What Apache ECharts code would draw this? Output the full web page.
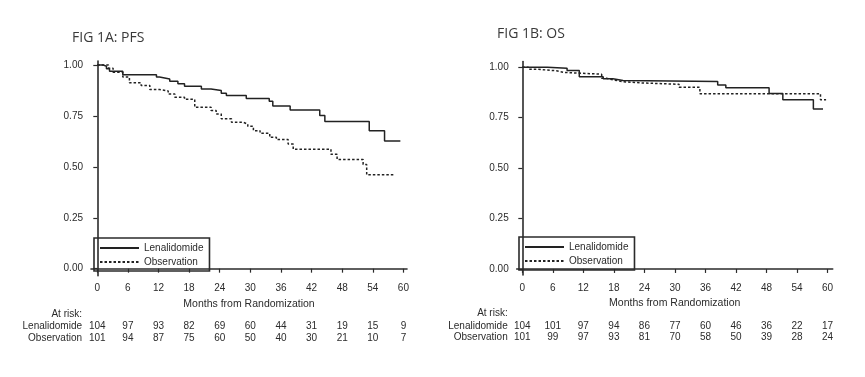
<!DOCTYPE html>
<html>
<head>
<meta charset="utf-8">
<script src="https://cdn.jsdelivr.net/npm/echarts@6/dist/echarts.min.js"></script>
<style>
	html, body {margin: 0; padding: 0; background: #fff;}
	#main {width: 865px; height: 377px;}
</style>
</head>
<body>
<div id="main"></div>
<script>
// x ticks (months) and y ticks
var monthTicks = [0, 6, 12, 18, 24, 30, 36, 42, 48, 54, 60];
var survTicks = [0, 0.25, 0.5, 0.75, 1];

// FIG 1A: PFS  [month, survival]
var pfsLenalidomide = [[0, 1], [1.2, 0.994], [1.8, 0.982], [2.4, 0.97], [5.0, 0.952], [11.6, 0.941], [12.2, 0.932],
	[14.2, 0.921], [15.8, 0.908], [17.1, 0.896], [20.4, 0.883], [22.3, 0.875], [24.3, 0.862], [25.3, 0.851],
	[29.2, 0.836], [33.7, 0.822], [34.4, 0.799], [37.8, 0.779], [43.6, 0.752], [44.6, 0.723], [53.3, 0.677],
	[56.3, 0.627], [59.4, 0.627]];
var pfsObservation = [[0, 1], [2.2, 0.985], [3.1, 0.965], [5.0, 0.941], [6.3, 0.913], [8.6, 0.9], [10.3, 0.88],
	[12.2, 0.873], [13.9, 0.858], [15.2, 0.842], [17.1, 0.832], [19.1, 0.793], [22.3, 0.777], [23.3, 0.76],
	[24.3, 0.736], [26.3, 0.719], [28.6, 0.71], [29.5, 0.699], [30.6, 0.678], [31.9, 0.665], [33.8, 0.645],
	[35.1, 0.634], [37.4, 0.612], [38.4, 0.587], [45.8, 0.562], [47.0, 0.536], [52.1, 0.512], [52.8, 0.461],
	[58.3, 0.461]];
var pfsRiskLen = [104, 97, 93, 82, 69, 60, 44, 31, 19, 15, 9];
var pfsRiskObs = [101, 94, 87, 75, 60, 50, 40, 30, 21, 10, 7];

// FIG 1B: OS
var osLenalidomide = [[0, 1], [4.9, 0.994], [8.8, 0.983], [11.2, 0.953], [15.9, 0.942], [17.8, 0.934],
	[19.8, 0.929], [38.4, 0.912], [40.0, 0.898], [48.5, 0.869], [51.2, 0.838], [57.2, 0.792], [59.1, 0.792]];
var osObservation = [[0, 1], [1.2, 0.99], [2.8, 0.982], [6.7, 0.974], [8.2, 0.965], [15.6, 0.945], [16.5, 0.937],
	[17.8, 0.928], [19.8, 0.922], [23.4, 0.915], [30.8, 0.9], [34.9, 0.868], [58.6, 0.838], [59.7, 0.838]];
var osRiskLen = [104, 101, 97, 94, 86, 77, 60, 46, 36, 22, 17];
var osRiskObs = [101, 99, 97, 93, 81, 70, 58, 50, 39, 28, 24];

var seriesNames = ['Lenalidomide', 'Observation'];
var titles = ['FIG 1A: PFS', 'FIG 1B: OS'];

var ink = '#2b2b2b';
var font = 'Liberation Sans, Arial, sans-serif';

var chart = echarts.init(document.getElementById('main'));

var panels = [
	{grid: {left: 91, top: 61, width: 316, height: 214.7}, xMin: -1.23, xMax: 60.7, yMin: -0.0345, yMax: 1.02,
		len: pfsLenalidomide, obs: pfsObservation, riskLen: pfsRiskLen, riskObs: pfsRiskObs,
		legend: {left: 94, top: 238}, title: {left: 72, top: 31}},
	{grid: {left: 516.7, top: 61.5, width: 316, height: 213.5}, xMin: -1.1, xMax: 61.0, yMin: -0.03, yMax: 1.028,
		len: osLenalidomide, obs: osObservation, riskLen: osRiskLen, riskObs: osRiskObs,
		legend: {left: 519, top: 237}, title: {left: 497, top: 27}}
];

var option = {
	backgroundColor: '#fff',
	animation: false,
	title: [], grid: [], xAxis: [], yAxis: [], legend: [], series: []
};

// extra axis used only as a text row under the plot
function tableAxis(gi, p, offset, name, values) {
	return {
		type: 'value', gridIndex: gi, position: 'bottom', offset: offset,
		min: p.xMin, max: p.xMax,
		name: name, nameLocation: 'start', nameGap: 9,
		nameTextStyle: {color: ink, fontSize: 10, fontFamily: font, verticalAlign: 'middle'},
		axisLine: {show: false}, axisTick: {show: false}, splitLine: {show: false},
		axisLabel: {
			show: !!values, customValues: monthTicks, margin: 0, verticalAlign: 'middle',
			color: ink, fontSize: 10, fontFamily: font,
			formatter: function (v, i) { return values ? String(values[monthTicks.indexOf(v)]) : ''; }
		}
	};
}

panels.forEach(function (p, gi) {
	option.title.push({
		text: titles[gi], left: p.title.left, top: p.title.top, padding: 0,
		textStyle: {color: '#3a3a3a', fontSize: 14, fontWeight: 'normal', fontFamily: 'Open Sans, Noto Sans, sans-serif'}
	});
	option.grid.push(Object.assign({outerBoundsMode: 'none', containLabel: false}, p.grid));
	option.xAxis.push({
		type: 'value', gridIndex: gi, min: p.xMin, max: p.xMax,
		name: 'Months from Randomization', nameLocation: 'middle', nameGap: 13,
		nameTextStyle: {color: ink, fontSize: 10.5, fontFamily: font},
		axisLine: {show: true, lineStyle: {color: ink, width: 1.6}},
		axisTick: {show: true, customValues: monthTicks, length: 4, lineStyle: {color: ink, width: 1.2}},
		axisLabel: {customValues: monthTicks, margin: 8, color: ink, fontSize: 10, fontFamily: font},
		splitLine: {show: false}
	});
	option.xAxis.push(tableAxis(gi, p, 38.5, 'At risk:', null));
	option.xAxis.push(tableAxis(gi, p, 50.8, seriesNames[0], p.riskLen));
	option.xAxis.push(tableAxis(gi, p, 62.5, seriesNames[1], p.riskObs));
	option.yAxis.push({
		type: 'value', gridIndex: gi, min: p.yMin, max: p.yMax,
		axisLine: {show: true, lineStyle: {color: ink, width: 1.6}},
		axisTick: {show: true, customValues: survTicks, length: 4, lineStyle: {color: ink, width: 1.2}},
		axisLabel: {customValues: survTicks, margin: 8, color: ink, fontSize: 10, fontFamily: font,
			formatter: function (v) { return v.toFixed(2); }},
		splitLine: {show: false}
	});
	option.legend.push({
		data: seriesNames, orient: 'vertical', left: p.legend.left, top: p.legend.top,
		itemWidth: 39, itemHeight: 12, itemGap: 4, padding: [5, 6, 4, 5],
		borderColor: ink, borderWidth: 1.6, borderRadius: 0,
		itemStyle: {opacity: 0, borderWidth: 0},
		textStyle: {color: ink, fontSize: 10, fontFamily: font}, selectedMode: false
	});
	var xi = gi * 4;
	option.series.push({
		name: seriesNames[0], type: 'line', step: 'end', xAxisIndex: xi, yAxisIndex: gi,
		data: p.len, symbol: 'none', lineStyle: {color: '#222', width: 1.5, type: 'solid'},
		itemStyle: {color: '#222'}
	});
	option.series.push({
		name: seriesNames[1], type: 'line', step: 'end', xAxisIndex: xi, yAxisIndex: gi,
		data: p.obs, symbol: 'none', lineStyle: {color: '#222', width: 1.5, type: [2.5, 2]},
		itemStyle: {color: '#222'}
	});
});

chart.setOption(option);
</script>
</body>
</html>
